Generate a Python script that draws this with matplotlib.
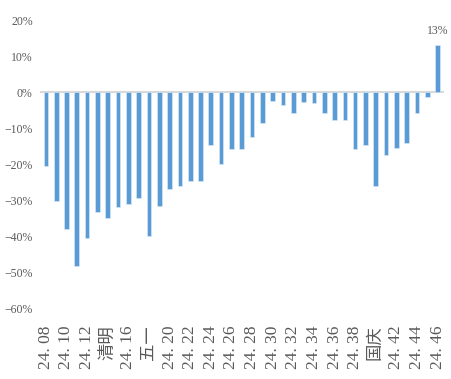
import matplotlib.pyplot as plt
import numpy as np

# Weekly YoY change (%), weeks 24.08 - 24.46
weeks = ['24. 08', '24. 09', '24. 10', '24. 11', '24. 12', '24. 13', '清明', '24. 15',
         '24. 16', '24. 17', '五一', '24. 19', '24. 20', '24. 21', '24. 22', '24. 23',
         '24. 24', '24. 25', '24. 26', '24. 27', '24. 28', '24. 29', '24. 30', '24. 31',
         '24. 32', '24. 33', '24. 34', '24. 35', '24. 36', '24. 37', '24. 38', '24. 39',
         '国庆', '24. 41', '24. 42', '24. 43', '24. 44', '24. 45', '24. 46']
values = [-20.5, -30.2, -37.9, -48.2, -40.4, -33.3, -34.7, -31.8, -30.9, -29.2,
          -39.7, -31.6, -26.8, -25.9, -24.7, -24.7, -14.7, -20.0, -15.7, -15.7,
          -12.4, -8.5, -2.3, -3.4, -5.7, -2.8, -2.9, -5.7, -7.7, -7.6,
          -15.8, -14.5, -26.0, -17.3, -15.4, -14.1, -5.7, -1.3, 13.2]
yticks = [20, 10, 0, -10, -20, -30, -40, -50, -60]

fonts = ['Liberation Serif', 'Noto Sans CJK SC']
x = np.arange(len(values))

fig = plt.figure(figsize=(4.51, 3.79), dpi=100)
ax = fig.add_axes([0.088, 0.185, 0.896, 0.762])

ax.bar(x, values, width=0.45, color='#5B9BD5', edgecolor='#DDEBF7', linewidth=0.4, zorder=3)
ax.axhline(0, color='#D9D9D9', linewidth=1.5, zorder=2)

ax.set_xlim(-0.6, len(values) - 0.4)
ax.set_ylim(-60, 20)

ax.set_yticks(yticks)
ax.set_yticklabels([f'{v}%'.replace('-', '\u2212') for v in yticks],
                   fontsize=8.5, color='#595959', family=fonts)

ax.set_xticks(x[::2])
ax.set_xticklabels(weeks[::2], rotation=90, fontsize=12.5, color='#595959',
                   family=fonts, va='top')

ax.tick_params(axis='both', length=0)
ax.tick_params(axis='x', pad=12)
ax.tick_params(axis='y', pad=5)
for s in ax.spines.values():
    s.set_visible(False)

ax.text(x[-1], values[-1] + 2, f'{round(values[-1])}%', ha='center', va='bottom',
        fontsize=8.5, color='#595959', family=fonts)

fig.savefig('out.png', dpi=100)
